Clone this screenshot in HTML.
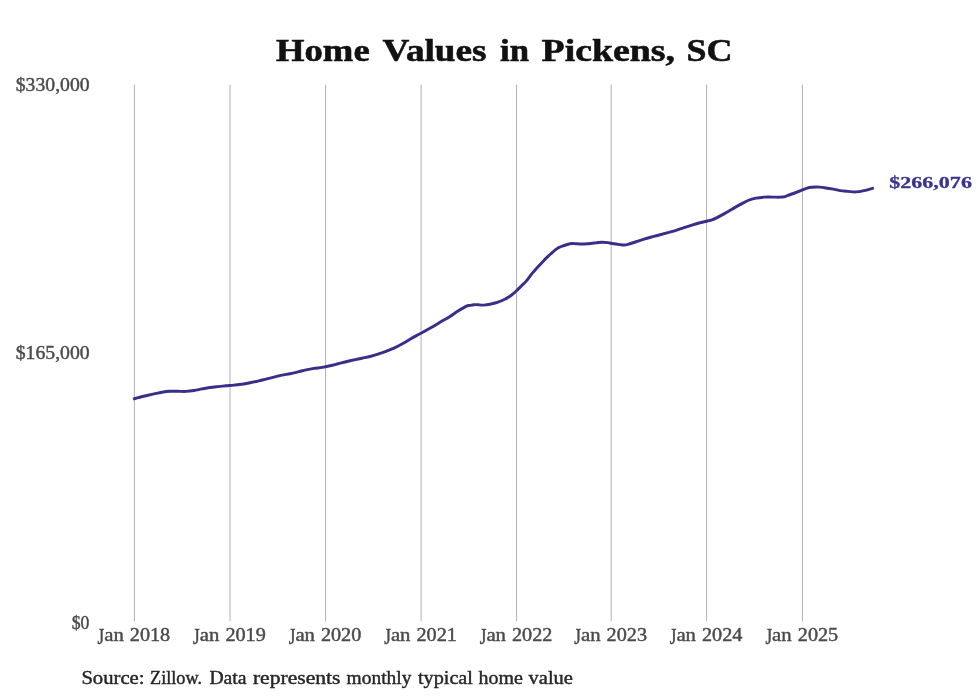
<!DOCTYPE html>
<html><head><meta charset="utf-8"><title>Home Values in Pickens, SC</title>
<style>html,body{margin:0;padding:0;background:#fff;}svg{display:block;will-change:transform;}text{font-family:"Liberation Serif",serif;}</style></head><body>
<svg width="980" height="699" viewBox="0 0 980 699">
<rect width="980" height="699" fill="#ffffff"/>
<line x1="134.4" y1="84.7" x2="134.4" y2="621.3" stroke="#b0b0b0" stroke-width="1"/>
<line x1="230.0" y1="84.7" x2="230.0" y2="621.3" stroke="#b0b0b0" stroke-width="1"/>
<line x1="325.6" y1="84.7" x2="325.6" y2="621.3" stroke="#b0b0b0" stroke-width="1"/>
<line x1="421.1" y1="84.7" x2="421.1" y2="621.3" stroke="#b0b0b0" stroke-width="1"/>
<line x1="516.6" y1="84.7" x2="516.6" y2="621.3" stroke="#b0b0b0" stroke-width="1"/>
<line x1="611.2" y1="84.7" x2="611.2" y2="621.3" stroke="#b0b0b0" stroke-width="1"/>
<line x1="706.6" y1="84.7" x2="706.6" y2="621.3" stroke="#b0b0b0" stroke-width="1"/>
<line x1="802.4" y1="84.7" x2="802.4" y2="621.3" stroke="#b0b0b0" stroke-width="1"/>
<path d="M134.45,398.70C135.04,398.52 136.07,398.10 138.00,397.60C139.93,397.10 143.33,396.32 146.00,395.70C148.67,395.08 151.33,394.48 154.00,393.90C156.67,393.32 159.33,392.63 162.00,392.20C164.67,391.77 167.33,391.45 170.00,391.30C172.67,391.15 175.33,391.28 178.00,391.30C180.67,391.32 183.33,391.53 186.00,391.40C188.67,391.27 191.33,390.92 194.00,390.50C196.67,390.08 199.33,389.40 202.00,388.90C204.67,388.40 207.33,387.88 210.00,387.50C212.67,387.12 215.33,386.88 218.00,386.60C220.67,386.32 223.33,386.05 226.00,385.80C228.67,385.55 231.33,385.37 234.00,385.10C236.67,384.83 239.33,384.59 242.00,384.20C244.67,383.81 247.33,383.27 250.00,382.75C252.67,382.23 255.33,381.71 258.00,381.10C260.67,380.49 263.33,379.77 266.00,379.10C268.67,378.43 271.33,377.77 274.00,377.10C276.67,376.43 279.33,375.67 282.00,375.10C284.67,374.53 287.33,374.23 290.00,373.70C292.67,373.17 295.33,372.53 298.00,371.90C300.67,371.27 303.33,370.48 306.00,369.90C308.67,369.32 311.33,368.82 314.00,368.40C316.67,367.98 319.33,367.83 322.00,367.40C324.67,366.97 327.33,366.40 330.00,365.80C332.67,365.20 335.33,364.48 338.00,363.80C340.67,363.12 343.33,362.35 346.00,361.70C348.67,361.05 351.33,360.48 354.00,359.90C356.67,359.32 359.33,358.77 362.00,358.20C364.67,357.63 367.33,357.17 370.00,356.50C372.67,355.83 375.33,355.06 378.00,354.20C380.67,353.34 383.33,352.37 386.00,351.35C388.67,350.33 391.33,349.33 394.00,348.10C396.67,346.88 399.33,345.48 402.00,344.00C404.67,342.52 407.33,340.73 410.00,339.20C412.67,337.67 415.33,336.25 418.00,334.80C420.67,333.35 423.33,331.97 426.00,330.50C428.67,329.03 431.33,327.57 434.00,326.00C436.67,324.43 439.33,322.68 442.00,321.10C444.67,319.52 447.33,318.17 450.00,316.50C452.67,314.83 455.33,312.78 458.00,311.10C460.67,309.42 464.00,307.35 466.00,306.40C468.00,305.45 468.67,305.68 470.00,305.40C471.33,305.12 472.67,304.82 474.00,304.70C475.33,304.58 476.67,304.63 478.00,304.70C479.33,304.77 480.67,305.08 482.00,305.10C483.33,305.12 484.67,304.95 486.00,304.80C487.33,304.65 488.00,304.63 490.00,304.20C492.00,303.77 495.33,303.13 498.00,302.20C500.67,301.27 504.00,299.58 506.00,298.60C508.00,297.62 508.67,297.22 510.00,296.30C511.33,295.38 512.92,294.02 514.00,293.10C515.08,292.18 515.17,292.10 516.50,290.80C517.83,289.50 520.42,286.87 522.00,285.30C523.58,283.73 524.33,283.35 526.00,281.40C527.67,279.45 530.00,276.03 532.00,273.60C534.00,271.17 536.00,269.00 538.00,266.80C540.00,264.60 542.33,262.13 544.00,260.40C545.67,258.67 546.00,258.25 548.00,256.40C550.00,254.55 554.00,250.87 556.00,249.30C558.00,247.73 558.67,247.63 560.00,247.00C561.33,246.37 562.67,245.97 564.00,245.50C565.33,245.03 566.67,244.52 568.00,244.20C569.33,243.88 570.67,243.62 572.00,243.55C573.33,243.48 574.67,243.68 576.00,243.75C577.33,243.82 578.00,243.96 580.00,243.95C582.00,243.94 585.33,243.88 588.00,243.70C590.67,243.52 593.67,243.15 596.00,242.90C598.33,242.65 600.00,242.24 602.00,242.20C604.00,242.16 606.33,242.43 608.00,242.65C609.67,242.87 610.00,243.17 612.00,243.50C614.00,243.83 618.00,244.40 620.00,244.65C622.00,244.90 622.67,245.04 624.00,245.00C625.33,244.96 626.00,244.94 628.00,244.40C630.00,243.86 633.33,242.63 636.00,241.75C638.67,240.87 641.33,239.92 644.00,239.10C646.67,238.28 649.33,237.57 652.00,236.85C654.67,236.13 657.33,235.51 660.00,234.80C662.67,234.09 665.33,233.33 668.00,232.60C670.67,231.87 673.33,231.22 676.00,230.40C678.67,229.58 681.33,228.59 684.00,227.70C686.67,226.81 689.33,225.87 692.00,225.05C694.67,224.23 697.58,223.44 700.00,222.80C702.42,222.16 704.50,221.68 706.50,221.20C708.50,220.72 710.42,220.41 712.00,219.90C713.58,219.39 714.00,219.15 716.00,218.15C718.00,217.15 721.33,215.39 724.00,213.90C726.67,212.41 729.33,210.74 732.00,209.20C734.67,207.66 737.33,206.10 740.00,204.65C742.67,203.20 745.33,201.59 748.00,200.50C750.67,199.41 753.33,198.66 756.00,198.10C758.67,197.54 761.33,197.32 764.00,197.15C766.67,196.98 769.33,197.10 772.00,197.10C774.67,197.10 777.83,197.23 780.00,197.15C782.17,197.07 783.67,196.90 785.00,196.60C786.33,196.30 786.17,196.03 788.00,195.35C789.83,194.67 793.60,193.42 796.00,192.50C798.40,191.58 800.40,190.62 802.40,189.85C804.40,189.07 806.40,188.29 808.00,187.85C809.60,187.41 810.67,187.35 812.00,187.20C813.33,187.05 814.67,186.97 816.00,186.95C817.33,186.93 818.67,186.99 820.00,187.10C821.33,187.21 822.00,187.30 824.00,187.60C826.00,187.90 829.33,188.39 832.00,188.90C834.67,189.41 837.33,190.23 840.00,190.65C842.67,191.07 845.33,191.19 848.00,191.40C850.67,191.61 853.33,192.03 856.00,191.90C858.67,191.77 861.27,191.20 864.00,190.60C866.73,190.00 871.00,188.68 872.40,188.30" fill="none" stroke="#372f8a" stroke-width="2.95" stroke-linejoin="round" stroke-linecap="square"/>
<text x="276.0" y="60.5" font-size="31" font-weight="bold" fill="#111111" stroke="#111111" stroke-width="0.55" textLength="93.7" lengthAdjust="spacingAndGlyphs">Home</text>
<text x="382.5" y="60.5" font-size="31" font-weight="bold" fill="#111111" stroke="#111111" stroke-width="0.55" textLength="104.0" lengthAdjust="spacingAndGlyphs">Values</text>
<text x="500.0" y="60.5" font-size="31" font-weight="bold" fill="#111111" stroke="#111111" stroke-width="0.55" textLength="29.0" lengthAdjust="spacingAndGlyphs">in</text>
<text x="541.6" y="60.5" font-size="31" font-weight="bold" fill="#111111" stroke="#111111" stroke-width="0.55" textLength="133.4" lengthAdjust="spacingAndGlyphs">Pickens,</text>
<text x="686.6" y="60.5" font-size="31" font-weight="bold" fill="#111111" stroke="#111111" stroke-width="0.55" textLength="46.0" lengthAdjust="spacingAndGlyphs">SC</text>
<text x="15.7" y="91.0" font-size="17.8" font-weight="normal" fill="#4a4a4a" stroke="#4a4a4a" stroke-width="0.40" textLength="74.0" lengthAdjust="spacingAndGlyphs">$330,000</text>
<text x="15.7" y="359.0" font-size="17.8" font-weight="normal" fill="#4a4a4a" stroke="#4a4a4a" stroke-width="0.40" textLength="74.0" lengthAdjust="spacingAndGlyphs">$165,000</text>
<text x="71.7" y="628.9" font-size="17.8" font-weight="normal" fill="#4a4a4a" stroke="#4a4a4a" stroke-width="0.40" textLength="17.7" lengthAdjust="spacingAndGlyphs">$0</text>
<text x="104.2" y="640.6" font-size="17.8" font-weight="normal" fill="#4a4a4a" stroke="#4a4a4a" stroke-width="0.40" textLength="19.6" lengthAdjust="spacingAndGlyphs">an</text>
<text x="129.8" y="640.6" font-size="17.8" font-weight="normal" fill="#4a4a4a" stroke="#4a4a4a" stroke-width="0.40" textLength="40.4" lengthAdjust="spacingAndGlyphs">2018</text>
<text x="199.8" y="640.6" font-size="17.8" font-weight="normal" fill="#4a4a4a" stroke="#4a4a4a" stroke-width="0.40" textLength="19.6" lengthAdjust="spacingAndGlyphs">an</text>
<text x="225.4" y="640.6" font-size="17.8" font-weight="normal" fill="#4a4a4a" stroke="#4a4a4a" stroke-width="0.40" textLength="40.4" lengthAdjust="spacingAndGlyphs">2019</text>
<text x="295.4" y="640.6" font-size="17.8" font-weight="normal" fill="#4a4a4a" stroke="#4a4a4a" stroke-width="0.40" textLength="19.6" lengthAdjust="spacingAndGlyphs">an</text>
<text x="320.9" y="640.6" font-size="17.8" font-weight="normal" fill="#4a4a4a" stroke="#4a4a4a" stroke-width="0.40" textLength="40.4" lengthAdjust="spacingAndGlyphs">2020</text>
<text x="390.9" y="640.6" font-size="17.8" font-weight="normal" fill="#4a4a4a" stroke="#4a4a4a" stroke-width="0.40" textLength="19.6" lengthAdjust="spacingAndGlyphs">an</text>
<text x="416.5" y="640.6" font-size="17.8" font-weight="normal" fill="#4a4a4a" stroke="#4a4a4a" stroke-width="0.40" textLength="40.4" lengthAdjust="spacingAndGlyphs">2021</text>
<text x="486.4" y="640.6" font-size="17.8" font-weight="normal" fill="#4a4a4a" stroke="#4a4a4a" stroke-width="0.40" textLength="19.6" lengthAdjust="spacingAndGlyphs">an</text>
<text x="512.0" y="640.6" font-size="17.8" font-weight="normal" fill="#4a4a4a" stroke="#4a4a4a" stroke-width="0.40" textLength="40.4" lengthAdjust="spacingAndGlyphs">2022</text>
<text x="581.0" y="640.6" font-size="17.8" font-weight="normal" fill="#4a4a4a" stroke="#4a4a4a" stroke-width="0.40" textLength="19.6" lengthAdjust="spacingAndGlyphs">an</text>
<text x="606.6" y="640.6" font-size="17.8" font-weight="normal" fill="#4a4a4a" stroke="#4a4a4a" stroke-width="0.40" textLength="40.4" lengthAdjust="spacingAndGlyphs">2023</text>
<text x="676.4" y="640.6" font-size="17.8" font-weight="normal" fill="#4a4a4a" stroke="#4a4a4a" stroke-width="0.40" textLength="19.6" lengthAdjust="spacingAndGlyphs">an</text>
<text x="702.0" y="640.6" font-size="17.8" font-weight="normal" fill="#4a4a4a" stroke="#4a4a4a" stroke-width="0.40" textLength="40.4" lengthAdjust="spacingAndGlyphs">2024</text>
<text x="772.1" y="640.6" font-size="17.8" font-weight="normal" fill="#4a4a4a" stroke="#4a4a4a" stroke-width="0.40" textLength="19.6" lengthAdjust="spacingAndGlyphs">an</text>
<text x="797.8" y="640.6" font-size="17.8" font-weight="normal" fill="#4a4a4a" stroke="#4a4a4a" stroke-width="0.40" textLength="40.4" lengthAdjust="spacingAndGlyphs">2025</text>
<text x="81.4" y="684.1" font-size="17.8" font-weight="normal" fill="#262626" stroke="#262626" stroke-width="0.40" textLength="63.1" lengthAdjust="spacingAndGlyphs">Source:</text>
<text x="150.0" y="684.1" font-size="17.8" font-weight="normal" fill="#262626" stroke="#262626" stroke-width="0.40" textLength="52.0" lengthAdjust="spacingAndGlyphs">Zillow.</text>
<text x="209.4" y="684.1" font-size="17.8" font-weight="normal" fill="#262626" stroke="#262626" stroke-width="0.40" textLength="37.2" lengthAdjust="spacingAndGlyphs">Data</text>
<text x="252.9" y="684.1" font-size="17.8" font-weight="normal" fill="#262626" stroke="#262626" stroke-width="0.40" textLength="87.6" lengthAdjust="spacingAndGlyphs">represents</text>
<text x="346.6" y="684.1" font-size="17.8" font-weight="normal" fill="#262626" stroke="#262626" stroke-width="0.40" textLength="64.8" lengthAdjust="spacingAndGlyphs">monthly</text>
<text x="418.0" y="684.1" font-size="17.8" font-weight="normal" fill="#262626" stroke="#262626" stroke-width="0.40" textLength="54.9" lengthAdjust="spacingAndGlyphs">typical</text>
<text x="478.6" y="684.1" font-size="17.8" font-weight="normal" fill="#262626" stroke="#262626" stroke-width="0.40" textLength="44.3" lengthAdjust="spacingAndGlyphs">home</text>
<text x="528.6" y="684.1" font-size="17.8" font-weight="normal" fill="#262626" stroke="#262626" stroke-width="0.40" textLength="44.3" lengthAdjust="spacingAndGlyphs">value</text>
<text x="889.3" y="187.6" font-size="17.2" font-weight="bold" fill="#39348f" stroke="#39348f" stroke-width="0.30" textLength="82.6" lengthAdjust="spacingAndGlyphs">$266,076</text>
<text transform="translate(97.5,643.8) scale(1,1.32)" x="0" y="0" font-size="17.8" fill="#4a4a4a" stroke="#4a4a4a" stroke-width="0.4" textLength="6.6" lengthAdjust="spacingAndGlyphs">J</text>
<text transform="translate(193.1,643.8) scale(1,1.32)" x="0" y="0" font-size="17.8" fill="#4a4a4a" stroke="#4a4a4a" stroke-width="0.4" textLength="6.6" lengthAdjust="spacingAndGlyphs">J</text>
<text transform="translate(288.7,643.8) scale(1,1.32)" x="0" y="0" font-size="17.8" fill="#4a4a4a" stroke="#4a4a4a" stroke-width="0.4" textLength="6.6" lengthAdjust="spacingAndGlyphs">J</text>
<text transform="translate(384.2,643.8) scale(1,1.32)" x="0" y="0" font-size="17.8" fill="#4a4a4a" stroke="#4a4a4a" stroke-width="0.4" textLength="6.6" lengthAdjust="spacingAndGlyphs">J</text>
<text transform="translate(479.8,643.8) scale(1,1.32)" x="0" y="0" font-size="17.8" fill="#4a4a4a" stroke="#4a4a4a" stroke-width="0.4" textLength="6.6" lengthAdjust="spacingAndGlyphs">J</text>
<text transform="translate(574.3,643.8) scale(1,1.32)" x="0" y="0" font-size="17.8" fill="#4a4a4a" stroke="#4a4a4a" stroke-width="0.4" textLength="6.6" lengthAdjust="spacingAndGlyphs">J</text>
<text transform="translate(669.8,643.8) scale(1,1.32)" x="0" y="0" font-size="17.8" fill="#4a4a4a" stroke="#4a4a4a" stroke-width="0.4" textLength="6.6" lengthAdjust="spacingAndGlyphs">J</text>
<text transform="translate(765.5,643.8) scale(1,1.32)" x="0" y="0" font-size="17.8" fill="#4a4a4a" stroke="#4a4a4a" stroke-width="0.4" textLength="6.6" lengthAdjust="spacingAndGlyphs">J</text>
</svg></body></html>
